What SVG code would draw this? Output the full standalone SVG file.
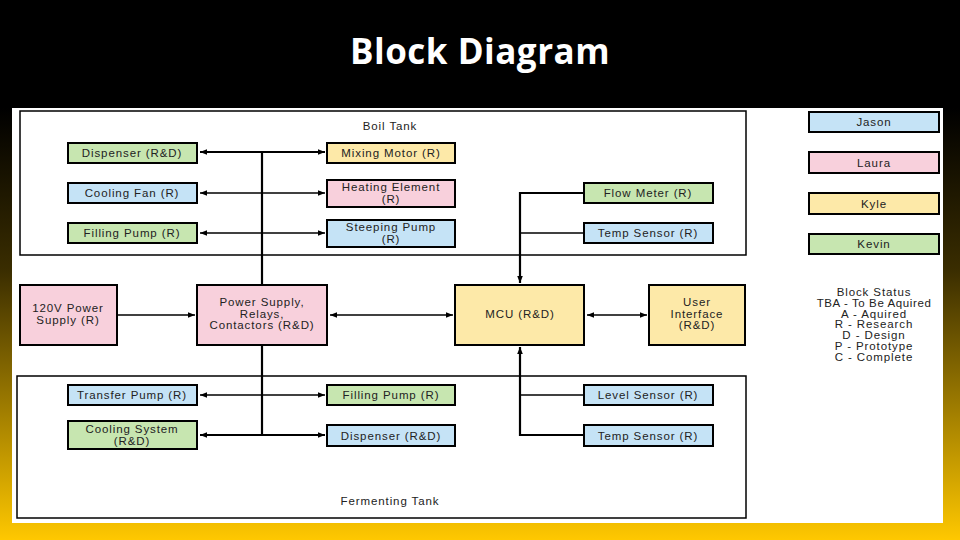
<svg xmlns="http://www.w3.org/2000/svg" width="960" height="540" viewBox="0 0 960 540">
<defs>
<linearGradient id="bg" x1="0" y1="0" x2="0" y2="1">
<stop offset="0" stop-color="#000"/><stop offset="0.2" stop-color="#000"/><stop offset="0.5" stop-color="#3a2d00"/><stop offset="1" stop-color="#ffc800"/>
</linearGradient>
<marker id="b" viewBox="0 0 10 10" refX="10" refY="5" markerWidth="12" markerHeight="7" orient="auto-start-reverse" markerUnits="userSpaceOnUse"><path d="M0,1 L10,5 L0,9 Z" fill="#000"/></marker>
<style>
rect.n{stroke:#000;stroke-width:2}
.bl{fill:#c5e3f6}.pk{fill:#f8d0dc}.ye{fill:#fde9a8}.gr{fill:#c7e6b0}
text{font-family:"Liberation Sans",Arial,sans-serif;font-size:11.5px;letter-spacing:0.9px;fill:#222;text-anchor:middle}
.c line,.c path{stroke:#000;stroke-width:1.3;fill:none}
.c .t{stroke-width:2.2}
</style>
</defs>
<rect width="960" height="540" fill="url(#bg)"/>
<text x="480" y="64" style="font-family:'Open Sans','Liberation Sans',sans-serif;font-size:35px;font-weight:bold;fill:#fff;letter-spacing:0.5px">Block Diagram</text>
<rect x="12" y="108" width="931" height="415" fill="#fff"/>
<rect x="20" y="111" width="726" height="144" fill="none" stroke="#000" stroke-width="1.5"/>
<rect x="17" y="376" width="729" height="142" fill="none" stroke="#000" stroke-width="1.5"/>
<text x="390" y="130">Boil Tank</text>
<text x="390" y="505">Fermenting Tank</text>
<g class="c">
<line class="t" x1="262" y1="152" x2="262" y2="285"/>
<line class="t" x1="262" y1="345" x2="262" y2="435"/>
<line class="t" x1="200" y1="152" x2="325" y2="152" marker-start="url(#b)" marker-end="url(#b)"/>
<line x1="200" y1="193" x2="325" y2="193" marker-start="url(#b)" marker-end="url(#b)"/>
<line x1="200" y1="233" x2="325" y2="233" marker-start="url(#b)" marker-end="url(#b)"/>
<line x1="117" y1="315" x2="195" y2="315" marker-end="url(#b)"/>
<line x1="330" y1="315" x2="453" y2="315" marker-start="url(#b)" marker-end="url(#b)"/>
<line x1="587" y1="315" x2="647" y2="315" marker-start="url(#b)" marker-end="url(#b)"/>
<path class="t" d="M584,193 H520 V283" marker-end="url(#b)"/>
<line x1="520" y1="233" x2="584" y2="233"/>
<path class="t" d="M584,435 H520 V347" marker-end="url(#b)"/>
<line x1="520" y1="395" x2="584" y2="395"/>
<line x1="200" y1="395" x2="325" y2="395" marker-start="url(#b)" marker-end="url(#b)"/>
<line class="t" x1="200" y1="435" x2="325" y2="435" marker-start="url(#b)" marker-end="url(#b)"/>
</g>
<g id="dispenser1"><rect class="n gr" x="68" y="143" width="129" height="20"/><text x="132" y="157">Dispenser (R&amp;D)</text></g>
<g id="coolingfan"><rect class="n bl" x="68" y="183" width="129" height="20"/><text x="132" y="197">Cooling Fan (R)</text></g>
<g id="fillingpump1"><rect class="n gr" x="68" y="223" width="129" height="20"/><text x="132" y="237">Filling Pump (R)</text></g>
<g id="mixingmotor"><rect class="n ye" x="327" y="143" width="128" height="20"/><text x="391" y="157">Mixing Motor (R)</text></g>
<g id="heating"><rect class="n pk" x="327" y="180" width="128" height="27"/><text x="391" y="191">Heating Element</text><text x="391" y="202.5">(R)</text></g>
<g id="steeping"><rect class="n bl" x="327" y="220" width="128" height="27"/><text x="391" y="231">Steeping Pump</text><text x="391" y="242.5">(R)</text></g>
<g id="flowmeter"><rect class="n gr" x="584" y="183" width="129" height="20"/><text x="648" y="197">Flow Meter (R)</text></g>
<g id="tempsensor1"><rect class="n bl" x="584" y="223" width="129" height="20"/><text x="648" y="237">Temp Sensor (R)</text></g>
<g id="power120"><rect class="n pk" x="20" y="285" width="97" height="60"/><text x="68" y="312">120V Power</text><text x="68" y="323.5">Supply (R)</text></g>
<g id="psu"><rect class="n pk" x="197" y="285" width="130" height="60"/><text x="262" y="306">Power Supply,</text><text x="262" y="317.5">Relays,</text><text x="262" y="329">Contactors (R&amp;D)</text></g>
<g id="mcu"><rect class="n ye" x="455" y="285" width="129" height="60"/><text x="520" y="318">MCU (R&amp;D)</text></g>
<g id="ui"><rect class="n ye" x="649" y="285" width="96" height="60"/><text x="697" y="306">User</text><text x="697" y="317.5">Interface</text><text x="697" y="329">(R&amp;D)</text></g>
<g id="transferpump"><rect class="n bl" x="68" y="385" width="129" height="20"/><text x="132" y="399">Transfer Pump (R)</text></g>
<g id="coolingsystem"><rect class="n gr" x="68" y="421" width="129" height="28"/><text x="132" y="433">Cooling System</text><text x="132" y="444.5">(R&amp;D)</text></g>
<g id="fillingpump2"><rect class="n gr" x="327" y="385" width="128" height="20"/><text x="391" y="399">Filling Pump (R)</text></g>
<g id="dispenser2"><rect class="n bl" x="327" y="425" width="128" height="21"/><text x="391" y="439.5">Dispenser (R&amp;D)</text></g>
<g id="levelsensor"><rect class="n bl" x="584" y="385" width="129" height="20"/><text x="648" y="399">Level Sensor (R)</text></g>
<g id="tempsensor2"><rect class="n bl" x="584" y="425" width="129" height="21"/><text x="648" y="439.5">Temp Sensor (R)</text></g>
<g id="legend">
<rect class="n bl" x="809" y="112" width="130" height="20"/><text x="874" y="126">Jason</text>
<rect class="n pk" x="809" y="152" width="130" height="21"/><text x="874" y="166.5">Laura</text>
<rect class="n ye" x="809" y="193" width="130" height="21"/><text x="874" y="207.5">Kyle</text>
<rect class="n gr" x="809" y="234" width="130" height="20"/><text x="874" y="248">Kevin</text>
<text x="874" y="296">Block Status</text>
<text x="874" y="306.8" style="letter-spacing:0.6px">TBA - To Be Aquired</text>
<text x="874" y="317.6">A - Aquired</text>
<text x="874" y="328.4">R - Research</text>
<text x="874" y="339.2">D - Design</text>
<text x="874" y="350">P - Prototype</text>
<text x="874" y="360.8">C - Complete</text>
</g>
</svg>
